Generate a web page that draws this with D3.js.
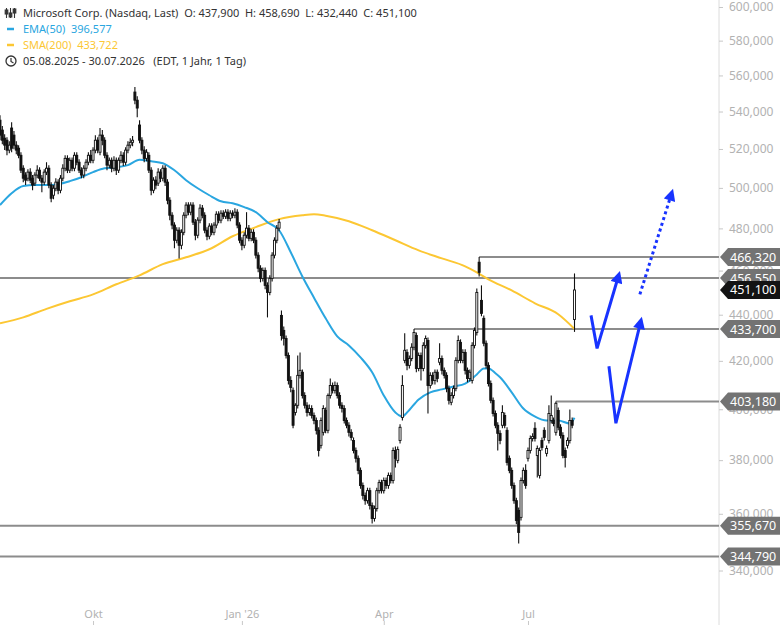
<!DOCTYPE html>
<html>
<head>
<meta charset="utf-8">
<script src="https://cdn.jsdelivr.net/npm/d3@7"></script>
<style>
  body { margin: 0; background: #fff; }
  svg { display: block; font-family: "Noto Sans", sans-serif; }
</style>
</head>
<body>
<script>
// daily candles, 05.08.2025 - 30.07.2026
const opens = [
  535.3,530.0,525.7,524.6,519.4,531.1,527.3,522.0,520.4,516.7,
  510.0,506.5,504.9,508.0,504.9,502.4,506.5,509.0,504.9,502.9,
  508.0,510.0,501.4,496.3,499.8,502.9,498.8,504.9,510.0,515.1,
  509.0,514.1,510.0,516.7,513.1,509.0,506.5,510.0,513.1,516.7,
  514.1,519.4,524.6,518.3,527.3,524.6,516.7,511.6,514.1,510.0,
  514.1,509.0,514.1,516.7,513.1,519.4,522.0,523.5,550.7,546.2,
  532.7,524.6,519.4,515.1,516.7,509.0,498.8,503.9,502.4,508.0,
  504.9,510.0,502.9,493.8,486.4,481.6,474.3,479.1,471.9,478.1,
  486.4,491.4,487.9,491.4,483.0,476.7,484.0,489.9,486.4,479.1,
  476.2,481.1,478.1,481.6,486.9,484.0,487.4,485.9,487.9,484.9,
  487.4,486.4,487.9,481.6,474.3,471.9,476.7,480.1,475.2,478.1,
  474.3,467.2,461.1,456.4,460.1,453.2,450.0,456.4,467.2,474.3,
  480.1,439.7,433.1,429.6,422.3,411.8,407.7,398.7,401.6,413.9,
  415.2,405.6,401.6,398.7,400.3,397.5,395.5,391.6,385.7,390.8,
  399.5,391.6,405.6,409.7,407.7,409.7,405.6,401.6,400.3,395.5,
  393.6,390.8,387.6,383.7,380.7,376.1,370.4,366.7,364.8,368.5,
  363.0,358.3,361.9,368.5,371.5,368.5,372.3,370.4,374.2,372.3,
  383.7,379.9,387.6,396.7,420.2,423.6,418.1,421.0,425.8,430.9,
  416.8,422.3,416.8,426.6,428.7,409.7,413.9,411.8,415.2,419.4,
  421.0,416.0,413.9,408.5,402.8,405.6,408.5,420.2,427.9,420.2,
  423.6,416.0,412.6,411.8,426.6,432.2,463.9,446.4,438.4,427.5,
  418.1,410.5,403.6,398.3,393.6,390.4,393.6,397.5,391.6,380.7,
  376.1,370.4,364.8,361.2,358.7,372.3,376.1,380.7,383.7,388.4,
  392.4,381.8,374.2,387.6,391.6,382.6,387.6,395.5,395.5,390.8,
  399.5,392.8,389.6,383.7,385.7,387.6,395.5,437.9
];
const highs = [
  538.0,532.2,527.8,526.2,524.1,534.2,529.5,524.1,522.0,518.3,
  511.6,508.0,509.5,510.0,506.5,508.0,511.6,510.5,506.5,509.5,
  513.1,511.6,502.9,501.4,504.9,504.4,506.5,512.1,516.7,516.7,
  515.6,515.6,518.3,518.3,514.6,510.5,511.6,514.6,518.3,519.4,
  520.9,527.3,526.2,531.1,530.0,526.2,518.3,515.6,515.6,516.2,
  515.6,515.6,518.8,518.3,520.9,524.1,525.7,526.8,553.5,548.4,
  535.3,526.2,521.4,519.9,518.3,510.5,505.4,505.9,510.0,509.5,
  511.6,511.6,504.4,495.3,487.9,483.0,480.6,480.6,479.6,487.9,
  492.8,492.8,492.8,492.8,484.5,485.4,491.8,491.4,487.9,480.6,
  482.5,482.5,483.0,488.4,488.4,488.9,488.9,489.4,489.4,488.9,
  488.9,489.9,489.4,483.0,475.7,478.1,487.9,481.6,479.6,479.6,
  475.7,468.6,462.5,461.5,461.5,454.6,457.8,468.6,475.7,481.6,
  484.5,441.9,434.8,430.9,423.6,413.5,408.9,402.4,422.3,423.6,
  416.4,406.9,402.8,401.9,401.6,398.7,396.7,392.8,396.7,401.6,
  400.7,406.4,412.6,410.9,411.4,410.9,406.9,402.8,401.6,396.7,
  394.8,392.0,388.8,384.9,381.8,377.2,371.5,367.8,369.6,369.6,
  364.1,363.0,369.6,372.6,372.6,373.4,373.4,375.3,375.3,384.9,
  385.3,385.3,394.0,413.9,431.8,424.9,422.3,427.5,433.7,432.2,
  423.6,423.6,427.9,430.9,430.0,415.2,415.2,416.4,416.4,427.5,
  422.3,417.2,415.2,409.7,406.9,409.7,421.5,430.9,429.2,424.9,
  424.9,417.2,416.4,427.9,434.4,451.8,466.32,453.2,439.7,428.7,
  419.4,411.8,404.8,399.5,394.8,391.6,401.6,398.7,392.8,381.8,
  377.2,371.5,365.9,362.3,373.4,377.2,378.4,384.9,389.6,390.4,
  394.8,385.7,384.9,388.8,392.8,385.7,401.6,405.6,396.7,403.18,
  400.7,394.0,390.8,384.9,388.8,399.9,396.7,458.69
];
const lows = [
  524.6,522.5,519.4,516.7,517.8,518.3,519.9,517.2,515.1,507.5,
  502.9,501.4,503.4,502.4,498.8,500.9,504.9,503.4,497.8,501.4,
  506.5,499.8,492.8,494.3,498.3,496.8,497.3,503.4,508.5,507.5,
  507.5,508.5,508.5,511.6,507.5,504.9,504.9,508.5,511.6,512.6,
  512.6,517.8,517.8,516.7,522.0,515.1,509.0,510.0,508.0,508.5,
  506.5,507.5,512.6,511.1,511.6,517.8,520.4,521.4,544.0,536.9,
  523.0,517.2,513.1,513.6,507.5,496.3,497.3,499.3,500.9,502.9,
  503.4,500.9,491.8,484.0,479.6,470.5,472.9,465.7,470.0,476.7,
  484.9,486.4,486.4,481.6,474.3,475.2,482.5,484.9,477.7,474.3,
  474.8,476.7,476.7,480.1,482.5,482.5,484.5,484.5,483.5,483.5,
  484.9,484.9,480.1,472.9,469.5,470.5,475.2,473.8,473.8,472.9,
  465.7,459.2,454.6,455.0,451.4,438.8,448.7,455.0,465.7,472.9,
  478.6,428.7,426.6,421.0,410.1,406.9,392.4,397.5,400.3,412.6,
  404.4,400.3,397.1,397.5,396.3,394.0,390.0,381.4,384.5,389.6,
  390.4,390.4,404.4,406.4,406.4,404.4,400.3,398.7,394.3,392.4,
  389.2,387.6,382.6,379.1,374.6,369.2,365.2,363.3,363.7,361.6,
  356.5,357.2,360.8,367.4,367.4,367.4,369.2,369.2,371.2,371.2,
  377.2,378.8,386.4,395.5,419.0,416.0,416.8,419.8,424.5,415.2,
  415.6,411.8,415.6,425.3,398.3,408.5,410.1,410.1,411.0,418.1,
  414.3,412.6,406.9,401.9,401.6,404.4,407.3,419.0,419.0,419.0,
  414.3,411.0,411.4,410.5,425.3,430.9,457.3,439.3,426.2,416.8,
  409.3,402.4,397.1,392.4,383.7,386.1,392.4,392.4,378.0,375.0,
  369.2,363.7,356.2,349.4,357.6,371.2,369.2,379.5,382.6,387.2,
  387.2,373.4,373.0,383.7,387.6,381.4,386.4,394.3,393.2,389.6,
  391.6,388.4,380.7,377.2,384.5,386.4,392.4,432.44
];
const closes = [
  527.3,524.6,522.0,519.4,522.0,520.4,522.0,519.4,516.7,509.0,
  504.9,503.9,508.0,503.9,501.4,506.5,509.0,504.9,502.9,508.0,
  510.0,501.4,494.8,499.8,502.9,498.8,504.9,510.0,515.1,509.0,
  514.1,510.0,516.7,513.1,509.0,506.5,510.0,513.1,516.7,514.1,
  519.4,524.6,519.4,527.3,524.6,516.7,511.6,514.1,510.0,514.1,
  509.0,514.1,516.7,513.1,519.4,522.0,523.5,524.6,546.2,541.9,
  524.6,519.4,515.1,518.3,509.0,498.8,503.9,501.4,508.0,504.9,
  510.0,502.9,493.8,486.4,481.6,474.3,479.1,471.9,478.1,486.4,
  491.4,487.9,491.4,483.0,476.7,484.0,489.9,486.4,479.1,476.2,
  481.1,478.1,481.6,486.9,484.0,487.4,485.9,487.9,484.9,487.4,
  486.4,487.9,481.6,474.3,471.9,476.7,480.1,475.2,478.1,474.3,
  467.2,461.1,456.4,460.1,453.2,450.0,456.4,467.2,474.3,480.1,
  483.0,430.9,429.6,422.3,411.8,408.9,393.6,401.6,413.9,416.0,
  405.6,401.6,398.7,400.3,397.5,395.5,391.6,383.7,395.5,400.3,
  391.6,405.6,409.7,407.7,409.7,405.6,401.6,400.3,395.5,393.6,
  390.8,388.8,383.7,380.7,376.1,370.4,366.7,364.8,368.5,363.0,
  358.3,361.9,368.5,371.5,368.5,372.3,370.4,374.2,372.3,383.7,
  380.7,384.1,392.8,409.7,424.5,418.1,421.0,425.8,432.2,416.8,
  422.3,416.8,426.6,429.6,409.7,413.9,411.8,415.2,412.6,421.0,
  416.0,413.9,408.5,403.6,405.6,408.5,420.2,428.7,420.2,423.6,
  416.0,412.6,415.2,426.6,433.1,450.0,459.2,440.6,427.5,418.1,
  410.5,403.6,398.3,393.6,390.4,387.6,398.7,393.6,379.1,376.1,
  370.4,364.8,357.6,353.3,372.3,376.1,370.4,383.7,388.4,389.2,
  388.4,384.5,383.7,384.9,388.8,384.5,398.3,397.5,394.3,402.4,
  392.8,389.6,381.8,381.0,387.6,395.5,393.6,451.1
];

// indicator readings (trading-day index, value)
const emaIdx = [0,5,10,15,20,25,30,35,40,45,50,55,60,65,70,75,80,85,90,95,
  100,105,110,115,120,125,130,135,140,145,150,155,160,165,170,173,175,180,185,190,
  195,200,205,208,210,213,215,220,225,230,235,240,245,247];
const emaVal = [491.4,497.3,500.9,501.4,501.4,501.9,503.4,505.4,508.0,510.0,
  510.5,511.6,514.4,513.6,512.6,509.0,503.9,499.8,496.3,493.3,
  492.3,490.4,487.9,483.0,479.1,468.6,457.3,447.6,438.4,430.5,
  426.6,421.5,415.2,405.6,398.7,397.1,398.7,404.0,406.9,408.1,
  409.3,410.5,414.3,416.8,416.8,414.8,413.1,406.9,400.3,397.1,
  395.5,395.5,394.3,396.577];
const smaIdx = [0,10,20,30,40,50,60,70,80,90,100,110,120,130,135,140,150,160,170,180,
  190,200,205,210,220,230,240,247];
const smaVal = [436.2,438.8,442.6,446.0,449.1,453.7,457.8,463.0,466.2,470.0,
  476.2,480.6,484.5,486.4,486.9,486.2,483.5,479.1,474.3,469.5,
  465.7,462.0,459.2,456.0,450.9,445.1,440.2,433.722];

// horizontal levels and where they start
const levelVals = [466.32, 456.55, 433.70, 403.18, 355.67, 344.79];
const levelFrom = [206, 0, 178, 239, 0, 0];
const lastPrice = 451.10;

const yTicks = [340,360,380,400,420,440,460,480,500,520,540,560,580,600];
const monthDates = ['2025-10-01','2026-01-01','2026-04-01','2026-07-01'];
const monthLabels = ['Okt', "Jan '26", 'Apr', 'Jul'];
const holidays = ['2025-09-01','2025-11-27','2025-12-25','2026-01-01','2026-01-19',
  '2026-02-16','2026-04-03','2026-05-25','2026-06-19','2026-07-03'];

// hand drawn arrows (trading-day index, price)
const arrowUp1 = [[254.1, 439.7], [256.7, 425.3], [266.1, 458.2]];
const arrowUp2 = [[261.8, 417.7], [264.8, 394.4], [275.6, 437.5]];
const arrowDots = [[275.1, 449.1], [288.9, 497.8]];

// trading calendar
let dates = []
for (let d = new Date(Date.UTC(2025, 7, 5)); dates.length < closes.length; d.setUTCDate(d.getUTCDate() + 1)) {
  let s = d.toISOString().slice(0, 10), wd = d.getUTCDay()
  if (wd != 0 && wd != 6 && !holidays.includes(s)) dates.push(s)
}
const tickIdx = monthDates.map(m => dates.findIndex(s => s >= m))

const width = 780, height = 625, axisX = 719
const de = d3.formatLocale({decimal: ",", thousands: ".", grouping: [3], currency: ["", ""]})
const fmt = de.format(".3f")

const x = d3.scaleLinear().domain([0, closes.length - 1]).range([0, 574.5])
const y = d3.scaleLog().domain([340, 600]).range([570.5, 7])

const svg = d3.select("body").append("svg")
  .attr("width", width).attr("height", height)

// right axis
svg.append("line")
  .attr("x1", axisX).attr("x2", axisX).attr("y1", 0).attr("y2", height)
  .attr("stroke", "#dcdcdc")

const yAxis = svg.append("g")
  .attr("transform", `translate(${axisX},0)`)
  .call(d3.axisRight(y).tickValues(yTicks).tickSize(4).tickPadding(6).tickFormat(fmt))
yAxis.select(".domain").remove()
yAxis.selectAll("line").attr("stroke", "#c8c8c8")
yAxis.selectAll("text").attr("fill", "#b2b2b2").style("font-size", "12px")
  .style("font-family", '"Noto Sans", sans-serif')

// bottom axis
const xAxis = svg.append("g")
  .attr("transform", `translate(0,${height})`)
  .call(d3.axisTop(x).tickValues(tickIdx).tickSize(4).tickPadding(3)
    .tickFormat((d, i) => monthLabels[i]))
xAxis.select(".domain").remove()
xAxis.selectAll("line").attr("stroke", "#c8c8c8")
xAxis.selectAll("text").attr("fill", "#b2b2b2").style("font-size", "11px")
  .style("font-family", '"Noto Sans", sans-serif')

// levels
svg.append("g").selectAll("line").data(levelVals).join("line")
  .attr("x1", (d, i) => x(levelFrom[i])).attr("x2", axisX)
  .attr("y1", d => y(d)).attr("y2", d => y(d))
  .attr("stroke", "#8c8c8c").attr("stroke-width", 2)

// moving averages
const line = d3.line().x(d => x(d[0])).y(d => y(d[1])).curve(d3.curveMonotoneX)
svg.append("path").datum(smaIdx.map((d, i) => [d, smaVal[i]]))
  .attr("d", line).attr("fill", "none").attr("stroke", "#fcc733").attr("stroke-width", 2)
svg.append("path").datum(emaIdx.map((d, i) => [d, emaVal[i]]))
  .attr("d", line).attr("fill", "none").attr("stroke", "#2aa6e0").attr("stroke-width", 2)

// candles
const candles = svg.append("g").selectAll("g").data(closes).join("g")
candles.append("line")
  .attr("x1", (d, i) => x(i)).attr("x2", (d, i) => x(i))
  .attr("y1", (d, i) => y(highs[i])).attr("y2", (d, i) => y(lows[i]))
  .attr("stroke", "#111").attr("stroke-width", 1.1)
candles.append("rect")
  .attr("x", (d, i) => x(i) - 1).attr("width", 2)
  .attr("y", (d, i) => y(Math.max(opens[i], d)))
  .attr("height", (d, i) => Math.max(0.8, Math.abs(y(opens[i]) - y(d))))
  .attr("fill", (d, i) => d < opens[i] ? "#111" : "#fff")
  .attr("stroke", "#111").attr("stroke-width", 0.9)

// arrows
const blue = "#1833ff"
const defs = svg.append("defs")
defs.append("marker").attr("id", "head")
  .attr("viewBox", "0 0 10 10").attr("refX", 7).attr("refY", 5)
  .attr("markerWidth", 14).attr("markerHeight", 12)
  .attr("markerUnits", "userSpaceOnUse").attr("orient", "auto")
  .append("path").attr("d", "M0,0 L10,5 L0,10 z").attr("fill", blue)

const aline = d3.line().x(d => x(d[0])).y(d => y(d[1]))
;[arrowUp1, arrowUp2].forEach(a => {
  svg.append("path").datum(a).attr("d", aline)
    .attr("fill", "none").attr("stroke", blue).attr("stroke-width", 3)
    .attr("stroke-linejoin", "miter").attr("marker-end", "url(#head)")
})
svg.append("path").datum(arrowDots).attr("d", aline)
  .attr("fill", "none").attr("stroke", blue).attr("stroke-width", 3)
  .attr("stroke-dasharray", "3,3").attr("marker-end", "url(#head)")

// price tags on the axis
function tag(v, bg) {
  let yy = y(v)
  svg.append("path")
    .attr("d", `M${axisX + 1},${yy} L${axisX + 9},${yy - 9} H${width} V${yy + 9} H${axisX + 9} Z`)
    .attr("fill", bg)
  svg.append("text").attr("x", axisX + 11).attr("y", yy + 4.5)
    .attr("fill", "#fff").style("font-size", "12.5px").text(fmt(v))
}
levelVals.forEach(v => tag(v, "#737373"))
tag(lastPrice, "#131313")

// legend
const lg = svg.append("g").style("font-size", "11px")
const ic = lg.append("g").attr("stroke", "#333").attr("fill", "none").attr("stroke-width", 1.1)
;[6.5, 10.5, 14.5].forEach((cx, i) => {
  ic.append("line").attr("x1", cx).attr("x2", cx).attr("y1", 8).attr("y2", 18)
  ic.append("rect").attr("x", cx - 1.3).attr("width", 2.6)
    .attr("y", [10, 13, 9][i]).attr("height", 4).attr("fill", "#333")
})
lg.append("text").attr("x", 23).attr("y", 17).attr("fill", "#333")
  .style("white-space", "pre")
  .text("Microsoft Corp. (Nasdaq, Last)  O: 437,900  H: 458,690  L: 432,440  C: 451,100")
lg.append("line").attr("x1", 7).attr("x2", 14).attr("y1", 29).attr("y2", 29)
  .attr("stroke", "#2aa6e0").attr("stroke-width", 2.5)
lg.append("text").attr("x", 23).attr("y", 33).attr("fill", "#2aa6e0")
  .style("white-space", "pre").text("EMA(50)  " + fmt(emaVal[emaVal.length - 1]))
lg.append("line").attr("x1", 7).attr("x2", 14).attr("y1", 45).attr("y2", 45)
  .attr("stroke", "#fcc733").attr("stroke-width", 2.5)
lg.append("text").attr("x", 23).attr("y", 49).attr("fill", "#fcc733")
  .style("white-space", "pre").text("SMA(200)  " + fmt(smaVal[smaVal.length - 1]))
lg.append("circle").attr("cx", 11).attr("cy", 61).attr("r", 5)
  .attr("fill", "none").attr("stroke", "#333").attr("stroke-width", 1.3)
lg.append("path").attr("d", "M11,58 V61.5 L13.5,63").attr("fill", "none")
  .attr("stroke", "#333").attr("stroke-width", 1.2)
lg.append("text").attr("x", 23).attr("y", 65).attr("fill", "#333")
  .style("white-space", "pre").text("05.08.2025 - 30.07.2026   (EDT, 1 Jahr, 1 Tag)")
</script>
</body>
</html>
